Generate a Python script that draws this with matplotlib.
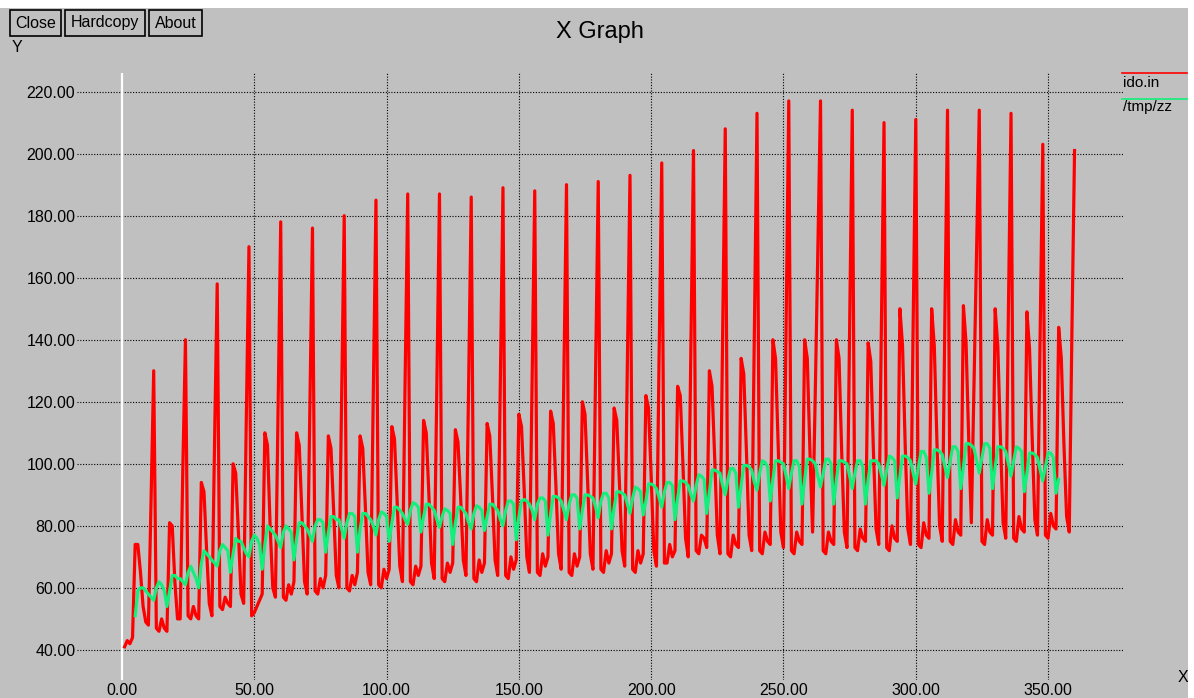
import numpy as np
import matplotlib
matplotlib.use("Agg")
import matplotlib.pyplot as plt
from matplotlib.patches import Rectangle
from matplotlib.lines import Line2D

plt.rcParams['font.family'] = ['Liberation Sans', 'DejaVu Sans']

# ido.in : one row per 12-sample cycle, x = 1..360
red_rows = [
    [41, 43, 42, 44, 74, 74, 65, 54, 49, 48, 88, 130],
    [47, 46, 50, 47, 46, 81, 80, 62, 50, 50, 98, 140],
    [51, 50, 54, 51, 50, 94, 91, 72, 55, 51, 107, 158],
    [54, 53, 57, 55, 54, 100, 97, 78, 58, 55, 115, 170],
    [51, 52, 54, 56, 58, 110, 106, 80, 60, 57, 118, 178],
    [57, 56, 61, 58, 62, 110, 106, 84, 62, 58, 118, 176],
    [59, 58, 63, 60, 64, 109, 105, 85, 64, 60, 121, 180],
    [60, 59, 64, 61, 65, 109, 105, 86, 65, 61, 124, 185],
    [61, 60, 66, 63, 66, 112, 108, 88, 67, 62, 126, 187],
    [62, 61, 67, 64, 67, 114, 110, 90, 68, 63, 126, 187],
    [63, 62, 68, 65, 68, 111, 107, 89, 69, 64, 125, 186],
    [63, 62, 69, 65, 68, 113, 109, 90, 69, 64, 127, 189],
    [64, 63, 70, 66, 69, 116, 112, 92, 70, 65, 127, 188],
    [65, 64, 71, 67, 70, 117, 113, 93, 71, 66, 128, 190],
    [65, 64, 71, 67, 70, 120, 116, 94, 71, 66, 130, 191],
    [66, 65, 72, 68, 71, 118, 114, 94, 72, 67, 132, 193],
    [66, 65, 72, 68, 71, 122, 118, 96, 72, 67, 135, 197],
    [68, 68, 74, 70, 72, 125, 122, 100, 76, 70, 137, 201],
    [72, 71, 77, 76, 73, 130, 125, 102, 77, 71, 141, 208],
    [71, 70, 77, 74, 73, 134, 129, 104, 77, 72, 144, 213],
    [72, 71, 78, 75, 74, 140, 134, 106, 78, 73, 146, 217],
    [72, 71, 78, 75, 74, 140, 134, 104, 78, 122, 170, 217],
    [72, 71, 78, 75, 74, 140, 134, 104, 78, 73, 145, 214],
    [73, 72, 79, 76, 75, 139, 133, 104, 79, 74, 144, 210],
    [73, 72, 80, 76, 75, 150, 138, 106, 79, 74, 144, 211],
    [74, 73, 81, 77, 76, 150, 138, 107, 80, 75, 147, 214],
    [75, 74, 82, 78, 77, 151, 139, 108, 81, 125, 170, 214],
    [75, 74, 82, 78, 77, 150, 138, 108, 81, 76, 149, 213],
    [76, 75, 83, 79, 78, 149, 137, 108, 82, 77, 142, 203],
    [77, 76, 84, 80, 79, 144, 134, 106, 83, 78, 142, 201],
]

# /tmp/zz : x = 5..354
green_rows = [
    [51, 59, 60, 60, 59, 58, 57],
    [56, 60, 62, 61, 59, 54, 59, 64, 64, 63, 63, 62],
    [61, 65, 67, 65, 63, 60, 68, 72, 71, 70, 69, 68],
    [67, 72, 74, 73, 72, 65, 71, 76, 75, 75, 73, 71],
    [70, 75, 77, 76, 74, 66, 74, 80, 79, 78, 77, 75],
    [73, 78, 80, 79, 78, 69, 76, 81, 81, 80, 79, 77],
    [75, 80, 82, 82, 81, 71.5, 78, 83, 83, 82, 82, 79],
    [76, 81, 84, 84, 83, 71.5, 79, 84, 84, 83, 82, 80],
    [77, 82, 84.5, 84, 83, 75, 81, 86, 86, 85, 84, 82],
    [80.5, 85, 87.5, 87, 86, 78, 83, 87, 87, 86, 85, 82],
    [79.5, 83, 85.5, 85, 84, 74, 81, 86, 86, 85, 84, 81],
    [79, 84, 86.5, 86, 85, 78.5, 83, 87, 87, 86, 85, 82],
    [80, 85, 88, 88, 87, 75.5, 83, 88, 88.5, 88, 87, 85],
    [82, 87, 89, 89, 88, 77, 84, 89.5, 89.5, 89, 88, 85],
    [82, 87, 90, 90, 89, 79, 85, 90, 90, 89.5, 89, 86],
    [82.5, 88, 90.5, 90.5, 89, 79, 86, 91, 91, 90.5, 90, 87],
    [84, 89, 92.5, 92, 91, 83.5, 88, 93.5, 93.5, 93, 92, 89],
    [86, 91, 94, 94, 93, 82, 89, 94.5, 94.5, 94, 93, 90],
    [88, 93, 96.5, 96, 95, 84, 91, 98, 98, 97.5, 97, 93],
    [90, 95, 98.5, 98.5, 97, 86, 93, 99.5, 99.5, 99, 98, 94],
    [91.5, 97, 101, 100.5, 99, 88, 95, 101, 101, 100.5, 100, 96],
    [92, 97, 101, 101, 99, 87, 95, 101.5, 101.5, 101, 100, 96],
    [92.5, 97, 101.5, 101.5, 100, 87, 95, 101, 101, 100.5, 100, 96],
    [92, 97, 101, 101, 99, 87, 95, 101, 101, 101, 100, 96.5],
    [93, 98, 102.5, 102, 101, 89, 96, 102.5, 102.5, 102, 101, 97],
    [93.5, 99, 104, 104, 102, 90.5, 97, 104.5, 104.5, 104, 103, 99],
    [95.5, 101, 105.5, 105.5, 104, 92, 99, 106.5, 106.5, 106, 105, 101],
    [97, 102, 106.5, 106.5, 105, 92, 99, 105.5, 105.5, 105, 104, 100],
    [96, 101, 105.5, 105, 104, 91, 97, 103.5, 103.5, 103, 102, 98],
    [94.5, 99, 103.5, 103.5, 102, 90.5, 95],
]

red_y = np.concatenate(red_rows)
red_x = np.arange(1, len(red_y) + 1)
green_y = np.concatenate(green_rows)
green_x = np.arange(5, 5 + len(green_y))

x_ticks = [0, 50, 100, 150, 200, 250, 300, 350]
y_ticks = [40, 60, 80, 100, 120, 140, 160, 180, 200, 220]

W, H = 1194, 698
bg = '#c0c0c0'
fig = plt.figure(figsize=(W / 100, H / 100), dpi=100, facecolor='white')
fig.patches.append(Rectangle((0, 0), 1188 / W, 1 - 8 / H, transform=fig.transFigure,
                             facecolor=bg, edgecolor='none', zorder=-10))

ax = fig.add_axes([76.7 / W, 1 - 680 / H, (1122.7 - 76.7) / W, (680 - 72.7) / H])
ax.set_facecolor('none')
for s in ax.spines.values():
    s.set_visible(False)
ax.set_xlim(-17.1, 378.2)
ax.set_ylim(30.3, 226.1)

for v in y_ticks:
    ax.axhline(v, color='black', lw=0.8, ls=(0, (1, 1.5)), zorder=1)
for v in x_ticks[1:]:
    ax.axvline(v, color='black', lw=0.8, ls=(0, (1, 1.5)), zorder=1)
ax.axvline(0, color='white', lw=1.6, zorder=1)

ax.plot(red_x, red_y, color='#ff0000', lw=2.3, zorder=3)
ax.plot(green_x, green_y, color='#10f07a', lw=2.2, zorder=4)

ax.set_xticks(x_ticks)
ax.set_xticklabels([f"{v:.2f}" for v in x_ticks])
ax.set_yticks(y_ticks)
ax.set_yticklabels([f"{v:.2f}" for v in y_ticks])
ax.tick_params(length=0, labelsize=11.5, colors='black')
ax.tick_params(axis='y', pad=1)
ax.tick_params(axis='x', pad=2)

fig.text(600 / W, 1 - 32 / H, "X Graph", ha='center', va='center', fontsize=17)
fig.text(17 / W, 1 - 48 / H, "Y", ha='center', va='center', fontsize=11.5)
fig.text(1183 / W, 1 - 678 / H, "X", ha='center', va='center', fontsize=11.5)

for label, x0, x1 in [("Close", 10, 61), ("Hardcopy", 65, 145), ("About", 149, 202)]:
    fig.patches.append(Rectangle((x0 / W, 1 - 36 / H), (x1 - x0) / W, 26 / H,
                                 transform=fig.transFigure, facecolor=bg,
                                 edgecolor='black', lw=1.2))
    fig.text((x0 + x1) / 2 / W, 1 - 23 / H, label, ha='center', va='center', fontsize=11.5)

for name, col, ly, ty in [("ido.in", '#ff0000', 73.3, 83), ("/tmp/zz", '#10f07a', 99, 107)]:
    fig.lines.append(Line2D([1122 / W, 1187 / W], [1 - ly / H, 1 - ly / H],
                            transform=fig.transFigure, color=col, lw=1.2))
    fig.text(1123 / W, 1 - ty / H, name, ha='left', va='center', fontsize=11)

fig.savefig("out.png", dpi=100, facecolor=fig.get_facecolor())
